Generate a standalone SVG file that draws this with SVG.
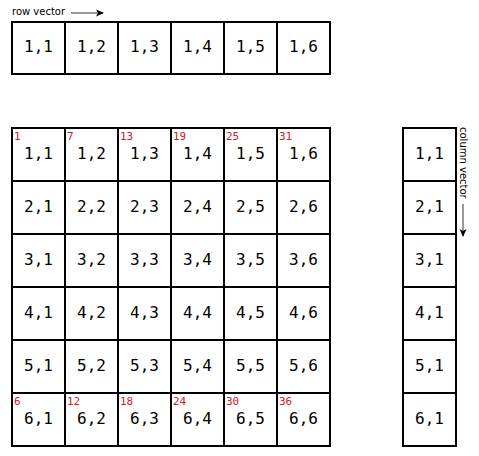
<svg xmlns="http://www.w3.org/2000/svg" width="479" height="456" viewBox="0 0 479 456">
<defs>
<style>
.cell{fill:#fff;stroke:#000;stroke-width:2}
.t{font-family:"DejaVu Sans Mono","Liberation Mono",monospace;font-size:16px;fill:#000;text-anchor:middle}
.n{font-family:"DejaVu Sans Mono","Liberation Mono",monospace;font-size:11px;fill:#d0202a}
.lbl{font-family:"DejaVu Sans","Liberation Sans",sans-serif;font-size:10px;fill:#000}
</style>
<marker id="ah" markerWidth="8" markerHeight="8" refX="7" refY="4" orient="auto" markerUnits="userSpaceOnUse">
<path d="M0,0.5 L8,4 L0,7.5 L2,4 Z" fill="#000"/>
</marker>
</defs>
<rect width="479" height="456" fill="#fff"/>
<g id="row-vector">
<text class="lbl" x="12" y="15">row vector</text>
<rect class="cell" x="12" y="22" width="53" height="52"/>
<rect class="cell" x="65" y="22" width="53" height="52"/>
<rect class="cell" x="118" y="22" width="53" height="52"/>
<rect class="cell" x="171" y="22" width="53" height="52"/>
<rect class="cell" x="224" y="22" width="53" height="52"/>
<rect class="cell" x="277" y="22" width="53" height="52"/>
<text class="t" x="38.5" y="52">1,1</text>
<text class="t" x="91.5" y="52">1,2</text>
<text class="t" x="144.5" y="52">1,3</text>
<text class="t" x="197.5" y="52">1,4</text>
<text class="t" x="250.5" y="52">1,5</text>
<text class="t" x="303.5" y="52">1,6</text>
</g>
<g id="matrix">
<g id="cells">
<rect class="cell" x="12" y="128" width="318" height="318"/>
<path d="M65,128V446M118,128V446M171,128V446M224,128V446M277,128V446M12,181H330M12,234H330M12,287H330M12,340H330M12,393H330" stroke="#000" stroke-width="2" fill="none"/>
</g>
<g id="matrix-text">
<text class="t" x="38.5" y="158.5">1,1</text><text class="t" x="91.5" y="158.5">1,2</text><text class="t" x="144.5" y="158.5">1,3</text><text class="t" x="197.5" y="158.5">1,4</text><text class="t" x="250.5" y="158.5">1,5</text><text class="t" x="303.5" y="158.5">1,6</text>
<text class="t" x="38.5" y="211.5">2,1</text><text class="t" x="91.5" y="211.5">2,2</text><text class="t" x="144.5" y="211.5">2,3</text><text class="t" x="197.5" y="211.5">2,4</text><text class="t" x="250.5" y="211.5">2,5</text><text class="t" x="303.5" y="211.5">2,6</text>
<text class="t" x="38.5" y="264.5">3,1</text><text class="t" x="91.5" y="264.5">3,2</text><text class="t" x="144.5" y="264.5">3,3</text><text class="t" x="197.5" y="264.5">3,4</text><text class="t" x="250.5" y="264.5">3,5</text><text class="t" x="303.5" y="264.5">3,6</text>
<text class="t" x="38.5" y="317.5">4,1</text><text class="t" x="91.5" y="317.5">4,2</text><text class="t" x="144.5" y="317.5">4,3</text><text class="t" x="197.5" y="317.5">4,4</text><text class="t" x="250.5" y="317.5">4,5</text><text class="t" x="303.5" y="317.5">4,6</text>
<text class="t" x="38.5" y="370.5">5,1</text><text class="t" x="91.5" y="370.5">5,2</text><text class="t" x="144.5" y="370.5">5,3</text><text class="t" x="197.5" y="370.5">5,4</text><text class="t" x="250.5" y="370.5">5,5</text><text class="t" x="303.5" y="370.5">5,6</text>
<text class="t" x="38.5" y="423.5">6,1</text><text class="t" x="91.5" y="423.5">6,2</text><text class="t" x="144.5" y="423.5">6,3</text><text class="t" x="197.5" y="423.5">6,4</text><text class="t" x="250.5" y="423.5">6,5</text><text class="t" x="303.5" y="423.5">6,6</text>
</g>
<g id="indices">
<text class="n" x="14" y="140">1</text><text class="n" x="67" y="140">7</text><text class="n" x="120" y="140">13</text><text class="n" x="173" y="140">19</text><text class="n" x="226" y="140">25</text><text class="n" x="279" y="140">31</text>
<text class="n" x="14" y="405">6</text><text class="n" x="67" y="405">12</text><text class="n" x="120" y="405">18</text><text class="n" x="173" y="405">24</text><text class="n" x="226" y="405">30</text><text class="n" x="279" y="405">36</text>
</g>
</g>
<g id="column-vector">
<rect class="cell" x="403" y="128" width="53" height="318"/>
<path d="M403,181H456M403,234H456M403,287H456M403,340H456M403,393H456" stroke="#000" stroke-width="2" fill="none"/>
<text class="t" x="429.5" y="158.5">1,1</text>
<text class="t" x="429.5" y="211.5">2,1</text>
<text class="t" x="429.5" y="264.5">3,1</text>
<text class="t" x="429.5" y="317.5">4,1</text>
<text class="t" x="429.5" y="370.5">5,1</text>
<text class="t" x="429.5" y="423.5">6,1</text>
<text class="lbl" transform="translate(460,127) rotate(90)">column vector</text>
</g>
<g id="connectors">
<line x1="71" y1="13" x2="103" y2="13" stroke="#555" stroke-width="1.2" marker-end="url(#ah)"/>
<line x1="463" y1="204" x2="463" y2="236" stroke="#555" stroke-width="1.2" marker-end="url(#ah)"/>
</g>
</svg>
